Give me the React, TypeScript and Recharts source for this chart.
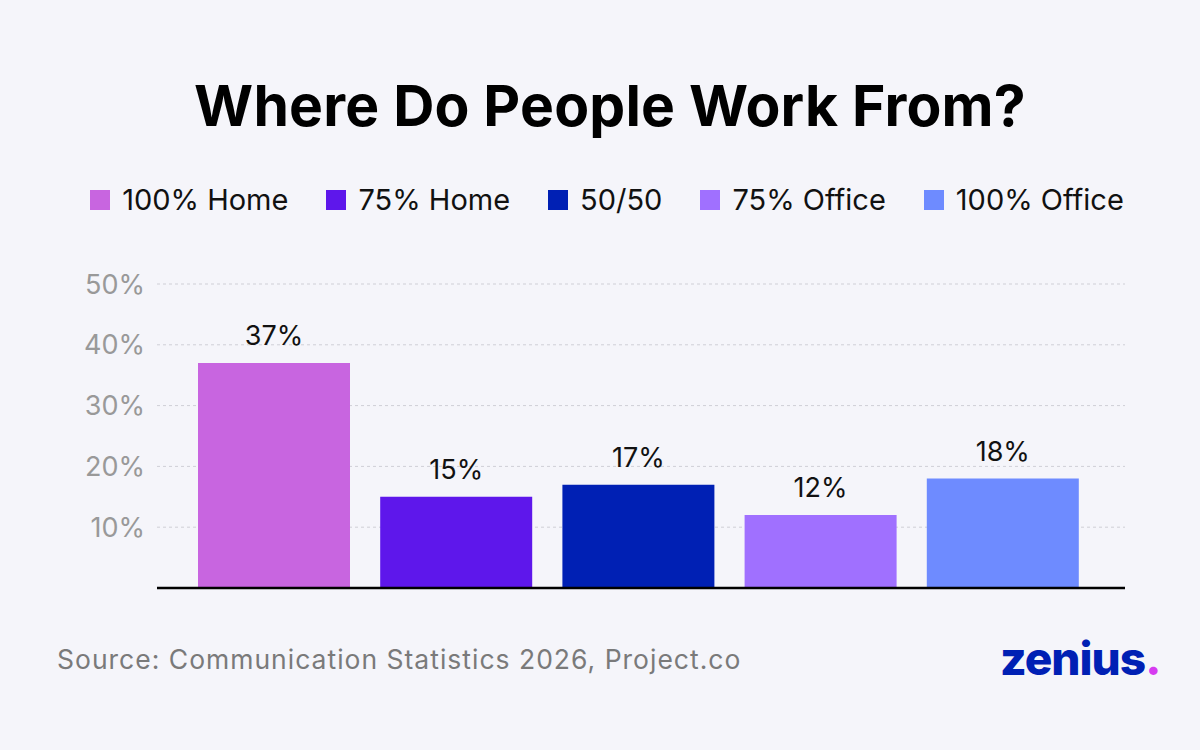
import React from "react";
import { BarChart, Bar, XAxis, YAxis, CartesianGrid, Cell, LabelList, ReferenceLine } from "recharts";

const categories = ["100% Home", "75% Home", "50/50", "75% Office", "100% Office"];
const shares = [37, 15, 17, 12, 18];
const colors = ["#C865E0", "#5E17EB", "#0020B4", "#A070FF", "#6E8BFF"];
const yTicks = [10, 20, 30, 40, 50];

const FONT = "Inter, 'Noto Sans', sans-serif";

const data = categories.map((name, i) => ({ name, value: shares[i] }));

export default function App() {
  return (
    <div
      style={{
        position: "absolute",
        left: 0,
        top: 0,
        width: 1200,
        height: 750,
        background: "#F5F5FA",
        fontFamily: FONT,
        overflow: "hidden",
      }}
    >
      <div
        style={{
          position: "absolute",
          top: 71,
          left: 10,
          width: 1200,
          textAlign: "center",
          fontSize: 57,
          fontWeight: 700,
          color: "#000",
          letterSpacing: 0.2,
        }}
      >
        Where Do People Work From?
      </div>

      {/* legend */}
      <div
        style={{
          position: "absolute",
          top: 182,
          left: 7,
          width: 1200,
          display: "flex",
          justifyContent: "center",
          gap: 38,
          fontSize: 29,
          color: "#111",
        }}
      >
        {categories.map((c, i) => (
          <div key={c} style={{ display: "flex", alignItems: "center", gap: 12 }}>
            <span style={{ width: 20, height: 20, background: colors[i], display: "inline-block" }} />
            <span>{c}</span>
          </div>
        ))}
      </div>

      <div style={{ position: "absolute", top: 260, left: 0 }}>
        <BarChart
          width={1200}
          height={340}
          data={data}
          margin={{ top: 24, right: 75, bottom: 12, left: 0 }}
          barSize={152}
        >
          <CartesianGrid vertical={false} stroke="#CFCFD6" strokeDasharray="3 3" />
          <XAxis
            dataKey="name"
            tick={false}
            tickLine={false}
            axisLine={false}
            padding={{ left: 26, right: 31 }}
            height={0}
          />
          <YAxis
            domain={[0, 50]}
            ticks={yTicks}
            width={157}
            axisLine={false}
            tickLine={false}
            tickSize={0}
            tickMargin={12}
            tickFormatter={(v) => `${v}%`}
            tick={{ fill: "#999", fontSize: 27, fontFamily: FONT }}
          />
          <Bar dataKey="value" isAnimationActive={false}>
            {data.map((d, i) => (
              <Cell key={d.name} fill={colors[i]} />
            ))}
            <LabelList
              dataKey="value"
              position="top"
              offset={18}
              formatter={(v: number) => `${v}%`}
              style={{ fill: "#111", fontSize: 27, fontFamily: FONT }}
            />
          </Bar>
          <ReferenceLine y={0} stroke="#000" strokeWidth={2.5} />
        </BarChart>
      </div>

      <div
        style={{
          position: "absolute",
          left: 57,
          top: 643,
          fontSize: 26.5,
          letterSpacing: 1,
          color: "#7A7A7A",
        }}
      >
        Source: Communication Statistics 2026, Project.co
      </div>

      <div
        style={{
          position: "absolute",
          left: 1000,
          top: 630,
          fontSize: 46,
          fontWeight: 800,
          color: "#0020B4",
          letterSpacing: -1,
        }}
      >
        zenius<span style={{ color: "#D63BF0" }}>.</span>
      </div>
    </div>
  );
}
